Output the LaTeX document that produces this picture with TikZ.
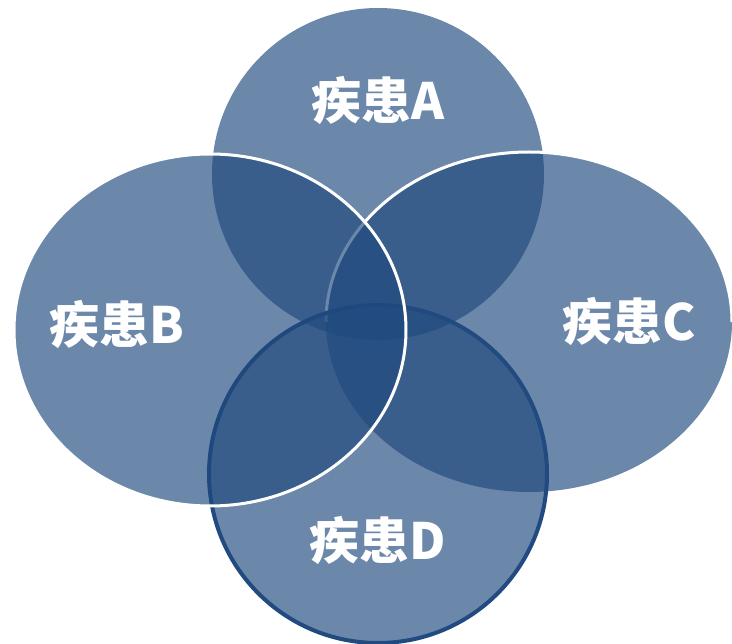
\documentclass[tikz,border=0pt]{standalone}
\usepackage{fontspec}
\newfontfamily\cjk{Noto Sans CJK SC}
\definecolor{venn}{HTML}{1F497D}
\definecolor{vennline}{HTML}{214A80}
\begin{document}
\begin{tikzpicture}[x=1pt,y=-1pt,
  set/.style={fill=venn,fill opacity=0.66},
  lbl/.style={text=white,font=\cjk\bfseries\fontsize{50}{60}\selectfont,inner sep=0pt}]
\useasboundingbox (0,0) rectangle (732,644);
% A (bottom layer, no border)
\fill[set] (378,174) ellipse [x radius=166pt, y radius=166pt];
% C
\fill[set] (529,322) ellipse [x radius=203pt, y radius=170pt];
\draw[white,line width=3pt] (326,322) arc [start angle=180, end angle=0, x radius=203pt, y radius=170pt];
% D
\filldraw[set,draw=vennline,line width=4pt] (378,474) ellipse [x radius=169pt, y radius=169pt];
% B (top layer)
\filldraw[set,draw=white,line width=3pt] (210,330) ellipse [x radius=196pt, y radius=176pt];
% labels
\node[lbl] (la) at (378,101) {疾患A};
\node[lbl] (lb) at (117,325) {疾患B};
\node[lbl] (lc) at (629,322) {疾患C};
\node[lbl] (ld) at (378,541) {疾患D};
\end{tikzpicture}
\end{document}
